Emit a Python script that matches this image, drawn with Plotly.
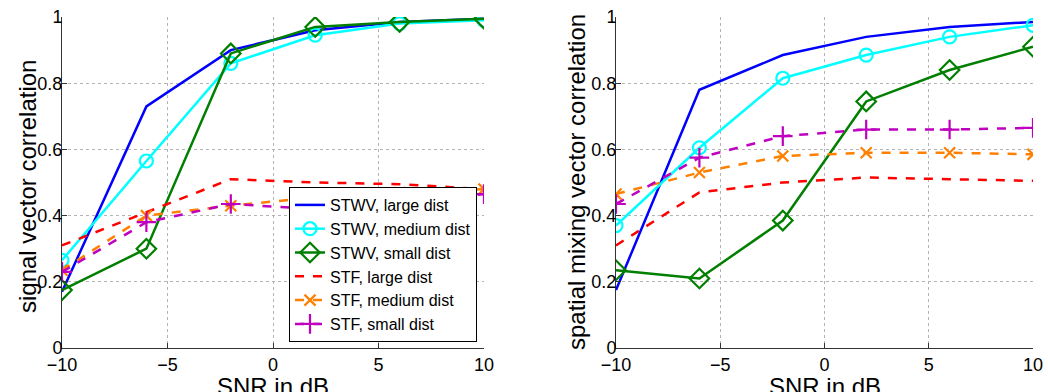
import plotly.graph_objects as go

snr = [-10, -6, -2, 2, 6, 10]

series_names = ["STWV, large dist", "STWV, medium dist", "STWV, small dist",
                "STF, large dist", "STF, medium dist", "STF, small dist"]

# left: signal vector correlation
left_stwv_large = [0.17, 0.73, 0.90, 0.96, 0.985, 0.995]
left_stwv_medium = [0.265, 0.565, 0.86, 0.945, 0.98, 0.99]
left_stwv_small = [0.175, 0.30, 0.89, 0.97, 0.985, 0.995]
left_stf_large = [0.31, 0.41, 0.51, 0.50, 0.495, 0.48]
left_stf_medium = [0.235, 0.40, 0.43, 0.455, 0.47, 0.48]
left_stf_small = [0.23, 0.38, 0.435, 0.42, 0.44, 0.465]

# right: spatial mixing vector correlation
right_stwv_large = [0.175, 0.78, 0.885, 0.94, 0.97, 0.985]
right_stwv_medium = [0.37, 0.605, 0.815, 0.885, 0.94, 0.975]
right_stwv_small = [0.235, 0.21, 0.385, 0.745, 0.84, 0.91]
right_stf_large = [0.31, 0.47, 0.50, 0.515, 0.51, 0.505]
right_stf_medium = [0.465, 0.53, 0.58, 0.59, 0.59, 0.585]
right_stf_small = [0.435, 0.575, 0.64, 0.66, 0.66, 0.665]

x_ticks = [-10, -5, 0, 5, 10]
y_ticks = [0, 0.2, 0.4, 0.6, 0.8, 1]

x_title = "SNR in dB"
left_y_title = "signal vector correlation"
right_y_title = "spatial mixing vector correlation"

styles = [
    dict(color="#0000FF", dash="solid", symbol=None, msize=0),
    dict(color="#00FFFF", dash="solid", symbol="circle-open", msize=13),
    dict(color="#007F00", dash="solid", symbol="diamond-open", msize=15),
    dict(color="#FF0000", dash="dash", symbol=None, msize=0),
    dict(color="#FF8000", dash="dash", symbol="x-thin-open", msize=11),
    dict(color="#BF00BF", dash="dash", symbol="cross-thin-open", msize=14),
]

left_data = [left_stwv_large, left_stwv_medium, left_stwv_small,
             left_stf_large, left_stf_medium, left_stf_small]
right_data = [right_stwv_large, right_stwv_medium, right_stwv_small,
              right_stf_large, right_stf_medium, right_stf_small]

FONT = "Liberation Sans, Arial, Helvetica"

fig = go.Figure()

def add(data, xa, ya, show):
    for name, ys, st in zip(series_names, data, styles):
        mode = "lines+markers" if st["symbol"] else "lines"
        marker = dict(symbol=st["symbol"], size=st["msize"], color=st["color"],
                      line=dict(color=st["color"], width=2.2)) if st["symbol"] else None
        fig.add_trace(go.Scatter(
            x=snr, y=ys, name=name, mode=mode, xaxis=xa, yaxis=ya,
            line=dict(color=st["color"], width=2.5, dash=st["dash"]),
            marker=marker, showlegend=show))

add(left_data, "x", "y", True)
add(right_data, "x2", "y2", False)

W, H = 1048, 392
ytop, ybot = 17, 348
yd = [1 - ybot / H, 1 - ytop / H]
lx = [62, 484]
rx = [616, 1033]

axis_common = dict(
    showgrid=True, gridcolor="#b4b4b4", griddash="dot", gridwidth=1,
    zeroline=False, showline=True, linecolor="#333333", linewidth=1,
    ticks="inside", ticklen=5, tickcolor="#333333",
    tickfont=dict(family=FONT, size=18, color="black"),
    mirror=False, automargin=False,
)

fig.update_layout(
    width=W, height=H,
    margin=dict(l=0, r=0, t=0, b=0),
    paper_bgcolor="white", plot_bgcolor="white",
    font=dict(family=FONT, color="black"),
    xaxis=dict(domain=[lx[0] / W, lx[1] / W], range=[-10, 10], tickvals=x_ticks,
               anchor="y", **axis_common),
    yaxis=dict(domain=yd, range=[0, 1], tickvals=y_ticks, anchor="x",
               ticklabelstandoff=-5, **axis_common),
    xaxis2=dict(domain=[rx[0] / W, rx[1] / W], range=[-10, 10], tickvals=x_ticks,
                anchor="y2", **axis_common),
    yaxis2=dict(domain=yd, range=[0, 1], tickvals=y_ticks, anchor="x2",
                ticklabelstandoff=-5, **axis_common),
    legend=dict(x=477 / W, y=1 - 187 / H, xanchor="right", yanchor="top",
                bgcolor="white", bordercolor="black", borderwidth=1,
                font=dict(family=FONT, size=16, color="black"),
                itemwidth=30, tracegroupgap=0),
)

title_font = dict(family=FONT, size=24, color="black")
ann = [
    dict(text=x_title, x=(lx[0] + lx[1]) / 2 / W, y=1 - 372 / H, xanchor="center", yanchor="top"),
    dict(text=x_title, x=(rx[0] + rx[1]) / 2 / W, y=1 - 372 / H, xanchor="center", yanchor="top"),
    dict(text=left_y_title, x=27 / W, y=1 - 187 / H, xanchor="center", yanchor="middle", textangle=-90),
    dict(text=right_y_title, x=576 / W, y=1 - 182 / H, xanchor="center", yanchor="middle", textangle=-90),
]
for a in ann:
    fig.add_annotation(xref="paper", yref="paper", showarrow=False, font=title_font,
                       borderpad=0, **a)

fig.write_html("out.html")
